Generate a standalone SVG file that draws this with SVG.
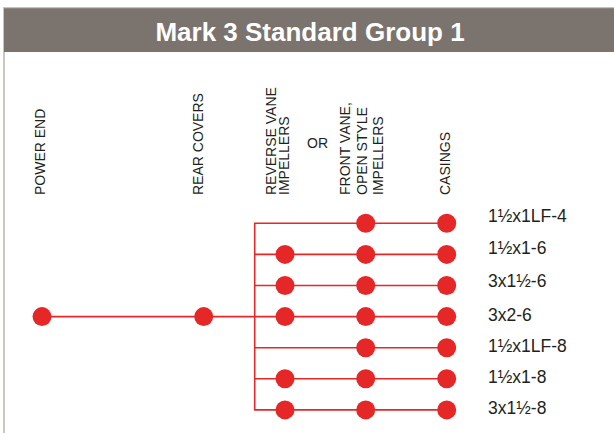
<svg xmlns="http://www.w3.org/2000/svg" width="614" height="433" viewBox="0 0 614 433">
<style>
.hdr{font-family:"Liberation Sans",Arial,sans-serif;font-size:14px;fill:#231f20}
.lbl{font-family:"Liberation Sans",Arial,sans-serif;font-size:17.5px;fill:#231f20}
.title{font-family:"Liberation Sans",Arial,sans-serif;font-size:26px;font-weight:bold;fill:#ffffff}
.dot{fill:#e52728}
.ln{stroke:#e52728;stroke-width:1.6;fill:none}
</style>
<rect width="614" height="433" fill="#ffffff"/>
<g id="frame">
<line x1="4" y1="7" x2="4" y2="433" stroke="#bdb8b4" stroke-width="1.6"/>
<rect x="4" y="7" width="610" height="45" fill="#7b736e"/>
<line x1="4" y1="7.6" x2="614" y2="7.6" stroke="#c6c1bd" stroke-width="1.2"/>
<text class="title" x="310" y="41" text-anchor="middle">Mark 3 Standard Group 1</text>
</g>
<g id="column-headers">
<text class="hdr" transform="translate(45,195) rotate(-90)">POWER END</text>
<text class="hdr" transform="translate(203,195) rotate(-90)">REAR COVERS</text>
<text class="hdr" transform="translate(275.5,195) rotate(-90)">REVERSE VANE</text>
<text class="hdr" transform="translate(288.5,195) rotate(-90)">IMPELLERS</text>
<text class="hdr" x="307" y="148">OR</text>
<text class="hdr" transform="translate(350,195) rotate(-90)">FRONT VANE,</text>
<text class="hdr" transform="translate(366.5,195) rotate(-90)">OPEN STYLE</text>
<text class="hdr" transform="translate(383,195) rotate(-90)">IMPELLERS</text>
<text class="hdr" transform="translate(450,195) rotate(-90)">CASINGS</text>
</g>
<g id="connectors">
<line class="ln" x1="42" y1="316.6" x2="254.7" y2="316.6"/>
<line class="ln" x1="254.7" y1="223.3" x2="254.7" y2="409.9"/>
<line class="ln" x1="254" y1="223.3" x2="446.7" y2="223.3"/>
<line class="ln" x1="254" y1="254.4" x2="446.7" y2="254.4"/>
<line class="ln" x1="254" y1="285.5" x2="446.7" y2="285.5"/>
<line class="ln" x1="254" y1="316.6" x2="446.7" y2="316.6"/>
<line class="ln" x1="254" y1="347.7" x2="446.7" y2="347.7"/>
<line class="ln" x1="254" y1="378.8" x2="446.7" y2="378.8"/>
<line class="ln" x1="254" y1="409.9" x2="446.7" y2="409.9"/>
</g>
<g id="power-end"><circle class="dot" cx="42" cy="316.6" r="9.5"/></g>
<g id="rear-covers"><circle class="dot" cx="203.7" cy="316.6" r="9.5"/></g>
<g id="reverse-vane-impellers">
<circle class="dot" cx="285" cy="254.4" r="9.5"/>
<circle class="dot" cx="285" cy="285.5" r="9.5"/>
<circle class="dot" cx="285" cy="316.6" r="9.5"/>
<circle class="dot" cx="285" cy="378.8" r="9.5"/>
<circle class="dot" cx="285" cy="409.9" r="9.5"/>
</g>
<g id="front-vane-impellers">
<circle class="dot" cx="365.7" cy="223.3" r="9.5"/>
<circle class="dot" cx="365.7" cy="254.4" r="9.5"/>
<circle class="dot" cx="365.7" cy="285.5" r="9.5"/>
<circle class="dot" cx="365.7" cy="316.6" r="9.5"/>
<circle class="dot" cx="365.7" cy="347.7" r="9.5"/>
<circle class="dot" cx="365.7" cy="378.8" r="9.5"/>
<circle class="dot" cx="365.7" cy="409.9" r="9.5"/>
</g>
<g id="casings">
<circle class="dot" cx="446.7" cy="223.3" r="9.5"/>
<circle class="dot" cx="446.7" cy="254.4" r="9.5"/>
<circle class="dot" cx="446.7" cy="285.5" r="9.5"/>
<circle class="dot" cx="446.7" cy="316.6" r="9.5"/>
<circle class="dot" cx="446.7" cy="347.7" r="9.5"/>
<circle class="dot" cx="446.7" cy="378.8" r="9.5"/>
<circle class="dot" cx="446.7" cy="409.9" r="9.5"/>
</g>
<g id="casing-labels">
<text class="lbl" x="488" y="221.7">1½x1LF-4</text>
<text class="lbl" x="488" y="254">1½x1-6</text>
<text class="lbl" x="488" y="287.3">3x1½-6</text>
<text class="lbl" x="488" y="320.7">3x2-6</text>
<text class="lbl" x="488" y="351.7">1½x1LF-8</text>
<text class="lbl" x="488" y="382.7">1½x1-8</text>
<text class="lbl" x="488" y="414">3x1½-8</text>
</g>
</svg>
